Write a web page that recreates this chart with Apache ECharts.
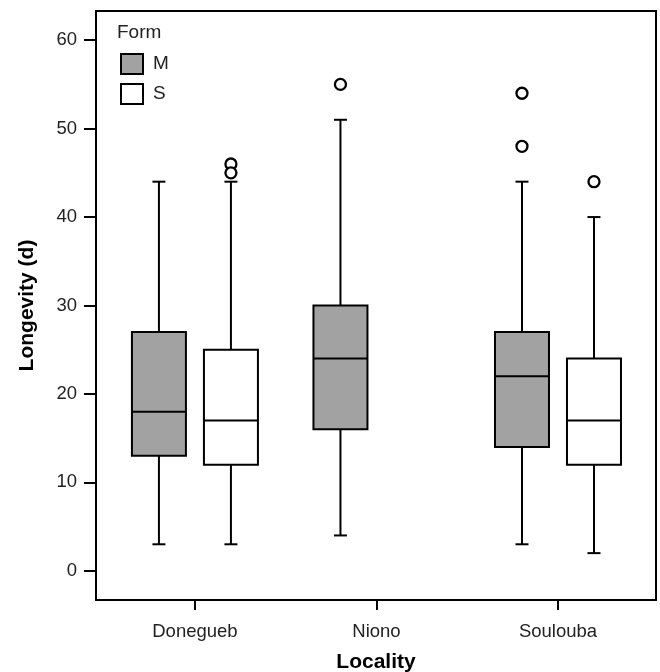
<!DOCTYPE html>
<html>
<head>
<meta charset="utf-8">
<script src="https://cdn.jsdelivr.net/npm/echarts@6/dist/echarts.min.js"></script>
<style>html,body{margin:0;padding:0;background:#fff}#c{width:660px;height:672px}</style>
</head>
<body>
<div id="c"></div>
<script>
// ---- data ----
const categories = ['Donegueb', 'Niono', 'Soulouba'];
const forms = ['M', 'S'];
// [min, Q1, median, Q3, max]
const mStats = [[3, 13, 18, 27, 44], [4, 16, 24, 30, 51], [3, 14, 22, 27, 44]];
const sStats = [[3, 12, 17, 25, 44], null, [2, 12, 17, 24, 40]];
const mOutliers = [[], [55], [54, 48]];
const sOutliers = [[46, 45], [], [44]];
const yTicks = [0, 10, 20, 30, 40, 50, 60];

// ---- build ----
const FONT = 'Liberation Sans, Arial, sans-serif';
const colors = { M: '#a2a2a2', S: '#ffffff' };
const offsets = { M: -36, S: 36 };

function boxData(stats) {
  const out = [];
  stats.forEach((s, i) => { if (s) out.push([i].concat(s)); });
  return out;
}
function outlierData(list) {
  const out = [];
  list.forEach((vals, i) => vals.forEach(v => out.push([i, v])));
  return out;
}
function makeRender(form) {
  const off = offsets[form], fill = colors[form];
  const hw = 27, cap = 6.5;
  return function (params, api) {
    const x = api.value(0);
    const pMin = api.coord([x, api.value(1)]);
    const pQ1 = api.coord([x, api.value(2)]);
    const pMed = api.coord([x, api.value(3)]);
    const pQ3 = api.coord([x, api.value(4)]);
    const pMax = api.coord([x, api.value(5)]);
    const cx = pMin[0] + off;
    const ls = { stroke: '#000', lineWidth: 2 };
    return {
      type: 'group',
      children: [
        { type: 'line', shape: { x1: cx, y1: pMax[1], x2: cx, y2: pQ3[1] }, style: ls },
        { type: 'line', shape: { x1: cx, y1: pQ1[1], x2: cx, y2: pMin[1] }, style: ls },
        { type: 'line', shape: { x1: cx - cap, y1: pMax[1], x2: cx + cap, y2: pMax[1] }, style: ls },
        { type: 'line', shape: { x1: cx - cap, y1: pMin[1], x2: cx + cap, y2: pMin[1] }, style: ls },
        { type: 'rect', shape: { x: cx - hw, y: pQ3[1], width: 2 * hw, height: pQ1[1] - pQ3[1] },
          style: { fill: fill, stroke: '#000', lineWidth: 2 } },
        { type: 'line', shape: { x1: cx - hw, y1: pMed[1], x2: cx + hw, y2: pMed[1] }, style: ls }
      ]
    };
  };
}

const statsByForm = { M: mStats, S: sStats };
const outByForm = { M: mOutliers, S: sOutliers };
const series = [];
forms.forEach(f => {
  series.push({
    name: f, type: 'custom', renderItem: makeRender(f),
    encode: { x: 0, y: [1, 2, 3, 4, 5] },
    itemStyle: { color: colors[f], borderColor: '#000', borderWidth: 2 },
    data: boxData(statsByForm[f]), z: 2
  });
  series.push({
    name: f + ' outliers', type: 'scatter', symbol: 'circle', symbolSize: 11,
    symbolOffset: [offsets[f], 0],
    itemStyle: { color: '#fff', borderColor: '#000', borderWidth: 2.3, opacity: 1 },
    data: outlierData(outByForm[f]), z: 3
  });
});

const chart = echarts.init(document.getElementById('c'), null, { renderer: 'canvas' });
chart.setOption({
  animation: false,
  backgroundColor: '#fff',
  grid: { left: 96, right: 4, top: 11, bottom: 72, containLabel: false, outerBoundsMode: 'none',
    show: true, borderColor: '#000', borderWidth: 2, backgroundColor: 'transparent' },
  xAxis: {
    type: 'value', min: -0.545, max: 2.54,
    name: 'Locality', nameLocation: 'middle', nameGap: 52,
    nameTextStyle: { fontFamily: FONT, fontSize: 21, fontWeight: 'bold', color: '#000' },
    axisLine: { show: true, onZero: false, lineStyle: { color: '#000', width: 2 } },
    axisTick: { show: true, length: 10, customValues: [0, 1, 2], lineStyle: { color: '#000', width: 2 } },
    axisLabel: { customValues: [0, 1, 2], formatter: v => categories[Math.round(v)], margin: 22,
      fontFamily: FONT, fontSize: 18.5, color: '#222' },
    splitLine: { show: false }
  },
  yAxis: {
    type: 'value', min: -3.3, max: 63.3,
    name: 'Longevity (d)', nameLocation: 'middle', nameGap: 58, nameRotate: 90,
    nameTextStyle: { fontFamily: FONT, fontSize: 21, fontWeight: 'bold', color: '#000' },
    axisLine: { show: true, onZero: false, lineStyle: { color: '#000', width: 2 } },
    axisTick: { show: true, length: 12, customValues: yTicks, lineStyle: { color: '#000', width: 2 } },
    axisLabel: { customValues: yTicks, margin: 19, fontFamily: FONT, fontSize: 18.5, color: '#222' },
    splitLine: { show: false }
  },
  legend: {
    orient: 'vertical', left: 120, top: 53, padding: 0, itemWidth: 22, itemHeight: 20, itemGap: 8,
    icon: 'rect', selectedMode: false,
    textStyle: { fontFamily: FONT, fontSize: 19, color: '#222', padding: [0, 0, 0, 5] },
    data: [
      { name: 'M', itemStyle: { color: colors.M, borderColor: '#000', borderWidth: 2 } },
      { name: 'S', itemStyle: { color: colors.S, borderColor: '#000', borderWidth: 2 } }
    ]
  },
  graphic: [{
    type: 'text', left: 117, top: 23,
    style: { text: 'Form', fontFamily: FONT, fontSize: 19, fill: '#222' }
  }],
  series: series
});
</script>
</body>
</html>
